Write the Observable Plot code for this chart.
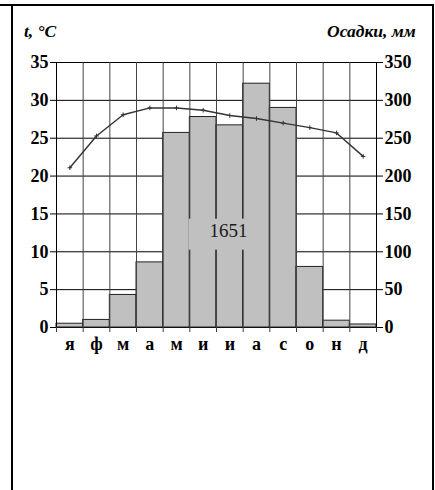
<!DOCTYPE html>
<html>
<head>
<meta charset="utf-8">
<script src="https://cdn.jsdelivr.net/npm/d3@7"></script>
<script src="https://cdn.jsdelivr.net/npm/@observablehq/plot@0.6"></script>
<style>
  html, body { margin: 0; padding: 0; background: #fff; }
  #wrap { position: relative; width: 435px; height: 490px; overflow: hidden; }
  #wrap svg { position: absolute; left: 0; top: 0; }
  .frame { position: absolute; background: #000; }
  .lbl { position: absolute; font-family: "Liberation Serif", serif; font-weight: bold; font-style: italic; font-size: 17.5px; line-height: 17.5px; color: #000; white-space: nowrap; }
</style>
</head>
<body>
<div id="wrap">
  <div class="lbl" id="tl" style="left:24px; top:23px;">t, °C</div>
  <div class="lbl" id="pl" style="left:327px; top:23px;">Осадки, мм</div>
</div>
<script>
const months = ["я","ф","м","а","м","и","и","а","с","о","н","д"];
const temperature = [21.1, 25.3, 28.1, 29.0, 29.0, 28.7, 28.0, 27.6, 27.0, 26.4, 25.7, 22.6];
const precipitation = [5, 10, 43, 86, 257, 278, 267, 322, 290, 80, 9, 4];
const tempTicks = [0, 5, 10, 15, 20, 25, 30, 35];
const precipTicks = [0, 50, 100, 150, 200, 250, 300, 350];
const annualTotal = "1651";

const ratio = precipTicks[precipTicks.length - 1] / tempTicks[tempTicks.length - 1];
const data = months.map((m, i) => ({i, m, t: temperature[i], p: precipitation[i]}));
const bounds = d3.range(months.length + 1);
const centers = d3.range(months.length).map(i => i + 0.5);

const chart = Plot.plot({
  width: 435,
  height: 490,
  marginLeft: 56,
  marginRight: 59,
  marginTop: 62,
  marginBottom: 163,
  x: {domain: [0, months.length], axis: null, label: null},
  y: {domain: [0, 35], axis: null, label: null},
  style: {fontFamily: "Liberation Serif, serif", fontSize: "18px", background: "transparent", color: "#000"},
  marks: [
    Plot.ruleY(tempTicks, {stroke: "#000", strokeWidth: 1, strokeOpacity: 1}),
    Plot.rectY(data, {x1: "i", x2: d => d.i + 1, y1: 0, y2: d => d.p / ratio, fill: "#c0c0c0", stroke: "#222", strokeWidth: 1, inset: 0}),
    Plot.ruleX(bounds, {y1: 0, y2: 35, stroke: "#444", strokeWidth: 1, strokeOpacity: 1}),
    Plot.ruleX([0, months.length], {y1: 0, y2: 35, stroke: "#000", strokeWidth: 1}),
    Plot.text([annualTotal], {x: 6.45, y: 12.8, text: d => d, fontSize: 19, fill: "#1a1a1a", fontWeight: "normal"}),
    Plot.line(data, {x: d => d.i + 0.5, y: "t", stroke: "#333", strokeWidth: 1.4}),
    Plot.dot(data, {x: d => d.i + 0.5, y: "t", symbol: "plus", r: 1.6, stroke: "#333", strokeWidth: 1}),
    Plot.axisY(tempTicks, {anchor: "left", label: null, tickSize: 6, tickPadding: 2, fontSize: 18, fontWeight: "bold", stroke: "#000", strokeOpacity: 1, fill: "#000"}),
    Plot.axisY(precipTicks.map(v => v / ratio), {anchor: "right", label: null, tickSize: 6, tickPadding: 2, tickFormat: d => String(Math.round(d * ratio)), fontSize: 18, fontWeight: "bold", stroke: "#000", strokeOpacity: 1, fill: "#000"}),
    Plot.axisX(bounds, {anchor: "bottom", label: null, tickSize: 5, tickFormat: () => "", stroke: "#3a3a3a", strokeOpacity: 1}),
    Plot.axisX(centers, {anchor: "bottom", label: null, tickSize: 0, tickPadding: 10, tickFormat: (d, i) => months[i], fontSize: 18, fontWeight: "bold", fill: "#000"})
  ]
});

const wrap = document.getElementById("wrap");
wrap.insertBefore(chart, wrap.firstChild);

// grey box behind the annual total
chart.querySelectorAll("text").forEach(t => {
  if (t.textContent === annualTotal) {
    const b = t.getBBox();
    const r = document.createElementNS("http://www.w3.org/2000/svg", "rect");
    r.setAttribute("x", b.x - 21);
    r.setAttribute("y", b.y - 1);
    r.setAttribute("width", b.width + 25);
    r.setAttribute("height", b.height + 10);
    r.setAttribute("fill", "#c0c0c0");
    const tr = t.getAttribute("transform");
    if (tr) r.setAttribute("transform", tr);
    t.parentNode.insertBefore(r, t);
  }
});

// frame
function line(x, y, w, h) {
  const d = document.createElement("div");
  d.className = "frame";
  d.style.left = x + "px"; d.style.top = y + "px";
  d.style.width = w + "px"; d.style.height = h + "px";
  wrap.appendChild(d);
}
line(0, 4, 434, 2);
line(11, 4, 2, 486);
line(432, 4, 2, 486);
</script>
</body>
</html>
